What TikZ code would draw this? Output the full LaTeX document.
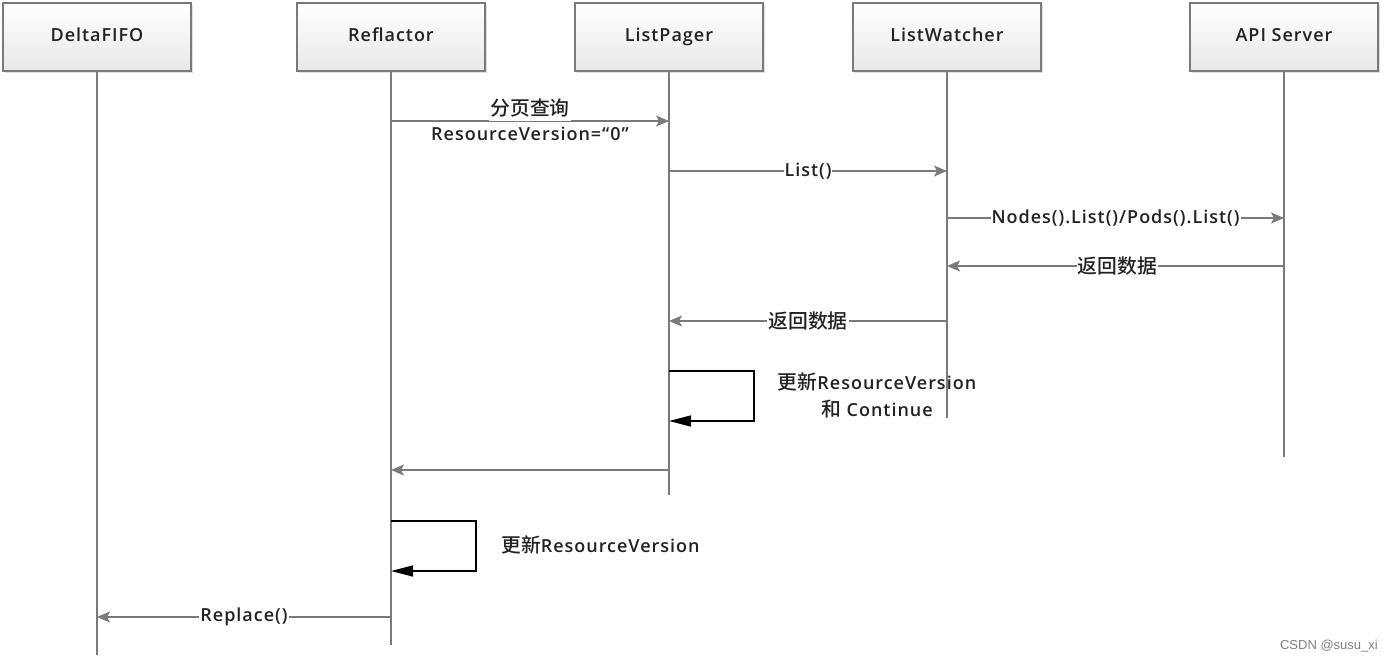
\documentclass[tikz,border=0pt]{standalone}
\usepackage{fontspec}
\IfFontExistsTF{Open Sans SemiBold}{%
  \setmainfont{Open Sans SemiBold}[LetterSpace=5.5]}{%
  \IfFontExistsTF{Open Sans Semibold}{%
    \setmainfont{Open Sans Semibold}[LetterSpace=5.5]}{%
    \setmainfont{Open Sans}[LetterSpace=6]}}
\IfFontExistsTF{Noto Sans CJK SC Medium}{%
  \newfontfamily\cjk{Noto Sans CJK SC Medium}[Scale=1.1]}{%
  \newfontfamily\cjk{Noto Sans CJK SC}[Scale=1.1]}
\newfontfamily\wmfont{Liberation Sans}
\usetikzlibrary{arrows.meta,shadows}
\definecolor{lineg}{HTML}{7A7A7A}
\definecolor{txt}{HTML}{222222}
\tikzset{
  actor/.style={draw=lineg, line width=1.2pt, minimum width=188pt, minimum height=68pt,
    top color=white, bottom color=black!9, drop shadow={shadow xshift=1.5pt, shadow yshift=-1.5pt, opacity=0.25},
    font=\fontsize{18}{22}\selectfont, text=txt, text height=13pt, text depth=4pt},
  life/.style={draw=lineg, line width=1.2pt},
  msg/.style={draw=lineg, line width=1.2pt, -{Stealth[length=13pt,width=11pt,inset=3pt]}},
  selfmsg/.style={draw=black, line width=1.5pt, -{Triangle[length=22pt,width=11pt]}},
  lbl/.style={font=\fontsize{18}{20}\selectfont, text=txt, fill=white, inner xsep=1pt, inner ysep=2pt},
  plain/.style={font=\fontsize{18}{27}\selectfont, text=txt, inner sep=0pt}
}
\begin{document}
\begin{tikzpicture}[x=1pt,y=-1pt]
\useasboundingbox (0,0) rectangle (1386,662);
% actors
\node[actor] (df) at (97,37) {DeltaFIFO};
\node[actor] (rf) at (391,37) {Reflactor};
\node[actor] (lp) at (669,37) {ListPager};
\node[actor] (lw) at (947,37) {ListWatcher};
\node[actor] (api) at (1284,37) {API Server};
% lifeline ends
\coordinate (dfE) at (97,655);
\coordinate (rfE) at (391,645);
\coordinate (lpE) at (669,495);
\coordinate (lwE) at (947,418);
\coordinate (apiE) at (1284,457);
\draw[life] (df.south) -- (dfE);
\draw[life] (rf.south) -- (rfE);
\draw[life] (lp.south) -- (lpE);
\draw[life] (lw.south) -- (lwE);
\draw[life] (api.south) -- (apiE);
% message points
\coordinate (m1a) at (391,121); \coordinate (m1b) at (669,121);
\coordinate (m2a) at (669,171); \coordinate (m2b) at (947,171);
\coordinate (m3a) at (947,218); \coordinate (m3b) at (1284,218);
\coordinate (m4a) at (1284,266); \coordinate (m4b) at (947,266);
\coordinate (m5a) at (947,321); \coordinate (m5b) at (669,321);
\coordinate (m6a) at (669,470); \coordinate (m6b) at (391,470);
\coordinate (m7a) at (391,617); \coordinate (m7b) at (97,617);
% messages
\draw[msg] (m1a) -- (m1b);
\node[lbl, inner ysep=4pt] (l1) at (530,108) {\cjk 分页查询};
\node[plain] (l1b) at (530,134) {ResourceVersion=“0”};
\draw[msg] (m2a) -- node[lbl] (l2) {List()} (m2b);
\draw[msg] (m3a) -- node[lbl] (l3) {Nodes().List()/Pods().List()} (m3b);
\draw[msg] (m4a) -- node[lbl, xshift=2pt] (l4) {\cjk 返回数据} (m4b);
\draw[msg] (m5a) -- node[lbl] (l5) {\cjk 返回数据} (m5b);
% self loop ListPager
\coordinate (s1a) at (669,371); \coordinate (s1b) at (754,371);
\coordinate (s1c) at (754,421); \coordinate (s1d) at (669,421);
\draw[selfmsg] (s1a) -- (s1b) -- (s1c) -- (s1d);
\node[plain, align=center] (ls1) at (877,395) {{\cjk 更新}ResourceVersion\\{\cjk 和} Continue};
% reply to Reflactor
\draw[msg] (m6a) -- (m6b);
% self loop Reflactor
\coordinate (s2a) at (391,521); \coordinate (s2b) at (476,521);
\coordinate (s2c) at (476,571); \coordinate (s2d) at (391,571);
\draw[selfmsg] (s2a) -- (s2b) -- (s2c) -- (s2d);
\node[plain, anchor=west] (ls2) at (501,545) {{\cjk 更新}ResourceVersion};
% replace
\draw[msg] (m7a) -- node[lbl] (l7) {Replace()} (m7b);
% watermark
\node[font=\fontsize{13}{15}\selectfont\wmfont, text=black!50, anchor=east, inner sep=0pt] (wm) at (1378,646) {CSDN @susu\_xi};
\end{tikzpicture}
\end{document}
